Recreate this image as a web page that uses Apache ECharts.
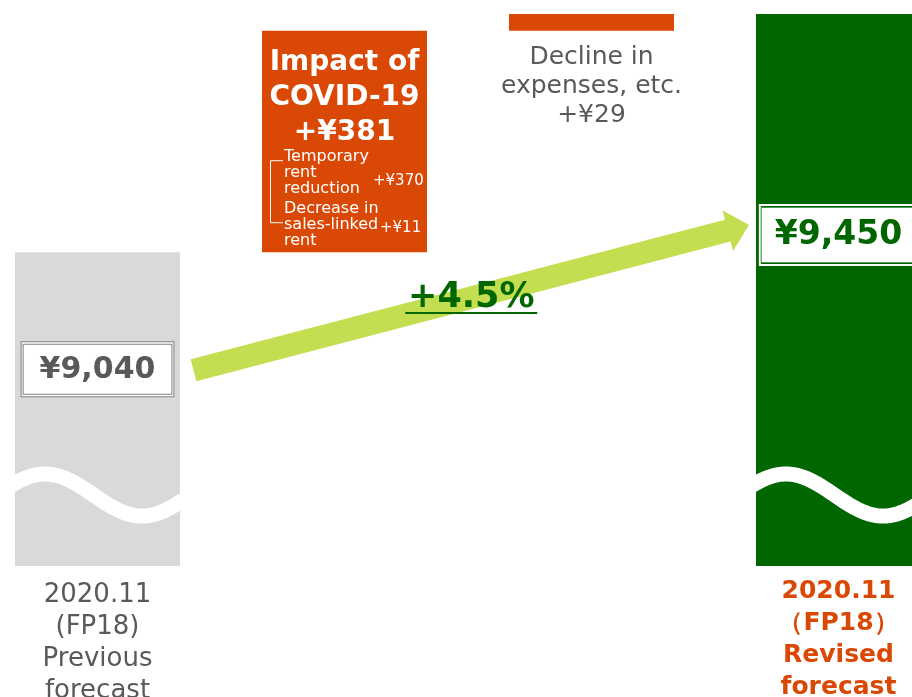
<!DOCTYPE html>
<html>
<head>
<meta charset="utf-8">
<script src="https://cdn.jsdelivr.net/npm/echarts@6/dist/echarts.min.js"></script>
<style>
  html, body { margin: 0; padding: 0; background: #fff; }
  #main { width: 912px; height: 697px; }
</style>
</head>
<body>
<div id="main"></div>
<script>
// data
const categories = ['Previous forecast', 'COVID-19', 'Expenses', 'Revised forecast'];
const tickLabels = ['2020.11\n(FP18)\nPrevious\nforecast', '', '', '2020.11\n（FP18）\nRevised\nforecast'];
const values = [9040, 381, 29, 9450];
const covidNames = ['Temporary\nrent\nreduction', 'Decrease in\nsales-linked\nrent'];
const covidValues = [370, 11];
const axisMin = 8500;
const axisMax = 9450;

const GRAY = '#d9d9d9', GREEN = '#006600', ORANGE = '#da4805', LIME = '#c4de52', TXT = '#595959';
const FONT = 'DejaVu Sans';
const yen = v => '¥' + v.toLocaleString('en-US');

// invisible base for the waterfall steps
const base = [0, values[0], values[0] + values[1], 0];

const items = [
  {
    value: values[0],
    itemStyle: { color: GRAY },
    label: {
      show: true, position: 'insideTop', distance: 90,
      formatter: '{v|' + yen(values[0]) + '}',
      backgroundColor: '#fff', borderColor: '#7f7f7f', borderWidth: 1, padding: 2,
      rich: { v: { fontSize: 30, fontWeight: 'bold', color: TXT, fontFamily: FONT, lineHeight: 50,
        backgroundColor: '#fff', borderColor: '#7f7f7f', borderWidth: 1, padding: [10, 16, 9, 16] } }
    }
  },
  {
    value: values[1],
    itemStyle: { color: ORANGE },
    label: {
      show: true, position: 'insideTop', distance: 14,
      formatter: 'Impact of\nCOVID-19\n+' + yen(values[1]),
      color: '#fff', fontSize: 28, fontWeight: 'bold', lineHeight: 35, fontFamily: FONT,
      textBorderWidth: 0, align: 'center'
    }
  },
  {
    value: values[2],
    itemStyle: { color: ORANGE },
    label: {
      show: true, position: 'bottom', distance: 12,
      formatter: 'Decline in\nexpenses, etc.\n+' + yen(values[2]),
      color: TXT, fontSize: 25, lineHeight: 29, fontFamily: FONT, align: 'center'
    }
  },
  {
    value: values[3],
    itemStyle: { color: GREEN },
    label: {
      show: true, position: 'insideTop', distance: 191,
      formatter: '{v|' + yen(values[3]) + '}',
      borderColor: '#fff', borderWidth: 2, padding: 2,
      rich: { v: { fontSize: 33, fontWeight: 'bold', color: GREEN, fontFamily: FONT, lineHeight: 56,
        backgroundColor: '#fff', borderColor: '#4e9a4e', borderWidth: 1, padding: [11, 13, 10, 13] } }
    }
  }
];

const option = {
  animation: false,
  textStyle: { fontFamily: FONT },
  grid: { left: -26, right: -50, top: 14, bottom: 131, containLabel: false, outerBoundsMode: 'none' },
  xAxis: {
    type: 'category',
    data: categories.map((c, i) => i === 3
      ? { value: c, textStyle: { color: ORANGE, fontWeight: 'bold', fontSize: 25 } }
      : (i === 0 ? { value: c, textStyle: { padding: [4, 0, 0, 0] } } : c)),
    axisLine: { show: false },
    axisTick: { show: false },
    axisLabel: {
      interval: 0, margin: 9, fontSize: 26, lineHeight: 32, color: TXT, fontFamily: FONT,
      formatter: (v, i) => tickLabels[i]
    }
  },
  yAxis: { type: 'value', min: axisMin, max: axisMax, show: false, splitLine: { show: false } },
  series: [
    { type: 'bar', stack: 'w', barWidth: 165, silent: true, itemStyle: { color: 'transparent' }, data: base },
    { type: 'bar', stack: 'w', barWidth: 165, data: items }
  ]
};

const chart = echarts.init(document.getElementById('main'));
chart.setOption(option);

// annotations placed from the chart's own coordinates
const px = (i, v) => chart.convertToPixel({ seriesIndex: 1 }, [i, v]);
const half = 82.5;
const graphics = [];

// axis-break waves on the two full bars
[0, 3].forEach(i => {
  const b = px(i, axisMin);
  const x0 = b[0] - half;
  const pts = [];
  for (let x = x0 - 4; x <= x0 + 2 * half + 4; x += 2) {
    pts.push([x, b[1] - 71 - 21 * Math.cos(2 * Math.PI * (x - x0 - 30) / 194)]);
  }
  graphics.push({ type: 'polyline', z: 10, shape: { points: pts, smooth: 0 },
    style: { stroke: '#fff', lineWidth: 15, fill: null } });
});

// growth arrow
const p0 = px(0, values[0]);
const p3 = px(3, values[3]);
const tail = [p0[0] + 96, p0[1] + 118];
const tip = [p3[0] - 89.5, p3[1] + 211];
const dx = tip[0] - tail[0], dy = tip[1] - tail[1];
const len = Math.hypot(dx, dy);
const u = [dx / len, dy / len], n = [-u[1], u[0]];
const hw = 11.3, hh = 21, hl = 22;
const H = [tip[0] - u[0] * hl, tip[1] - u[1] * hl];
const off = (p, s) => [p[0] + n[0] * s, p[1] + n[1] * s];
graphics.push({
  type: 'polygon', z: 5,
  shape: { points: [off(tail, hw), off(tail, -hw), off(H, -hw), off(H, -hh), tip, off(H, hh), off(H, hw)] },
  style: { fill: LIME }
});
const mid = [(tail[0] + tip[0]) / 2, (tail[1] + tip[1]) / 2];
const pct = '+' + ((values[3] / values[0] - 1) * 100).toFixed(1) + '%';
graphics.push({
  type: 'text', z: 12, x: mid[0], y: mid[1],
  style: { text: pct, fill: GREEN, fontSize: 35, fontWeight: 'bold', fontFamily: FONT,
    textAlign: 'center', textVerticalAlign: 'middle' }
});
graphics.push({
  type: 'line', z: 12,
  shape: { x1: mid[0] - 66, y1: mid[1] + 15.5, x2: mid[0] + 66, y2: mid[1] + 15.5 },
  style: { stroke: GREEN, lineWidth: 2 }
});

// COVID-19 breakdown inside the orange bar
const cb = px(1, values[0]);
const left = cb[0] - half;
const small = { fill: '#fff', fontSize: 16, fontFamily: FONT, lineHeight: 16, textVerticalAlign: 'top' };
const smallVal = { fill: '#fff', fontSize: 15, fontFamily: FONT, lineHeight: 16, textVerticalAlign: 'top' };
graphics.push({ type: 'text', z: 12, x: left + 22, y: cb[1] - 103, style: Object.assign({ text: covidNames[0] }, small) });
graphics.push({ type: 'text', z: 12, x: left + 22, y: cb[1] - 51, style: Object.assign({ text: covidNames[1] }, small) });
graphics.push({ type: 'text', z: 12, x: left + 111, y: cb[1] - 79, style: Object.assign({ text: '+' + yen(covidValues[0]) }, smallVal) });
graphics.push({ type: 'text', z: 12, x: left + 118, y: cb[1] - 32, style: Object.assign({ text: '+' + yen(covidValues[1]) }, smallVal) });
graphics.push({
  type: 'polyline', z: 12,
  shape: { points: [[left + 21, cb[1] - 91.5], [left + 8.5, cb[1] - 91.5], [left + 8.5, cb[1] - 29.5], [left + 21, cb[1] - 29.5]] },
  style: { stroke: '#fff', lineWidth: 1, fill: null }
});

chart.setOption({ graphic: graphics });
</script>
</body>
</html>
